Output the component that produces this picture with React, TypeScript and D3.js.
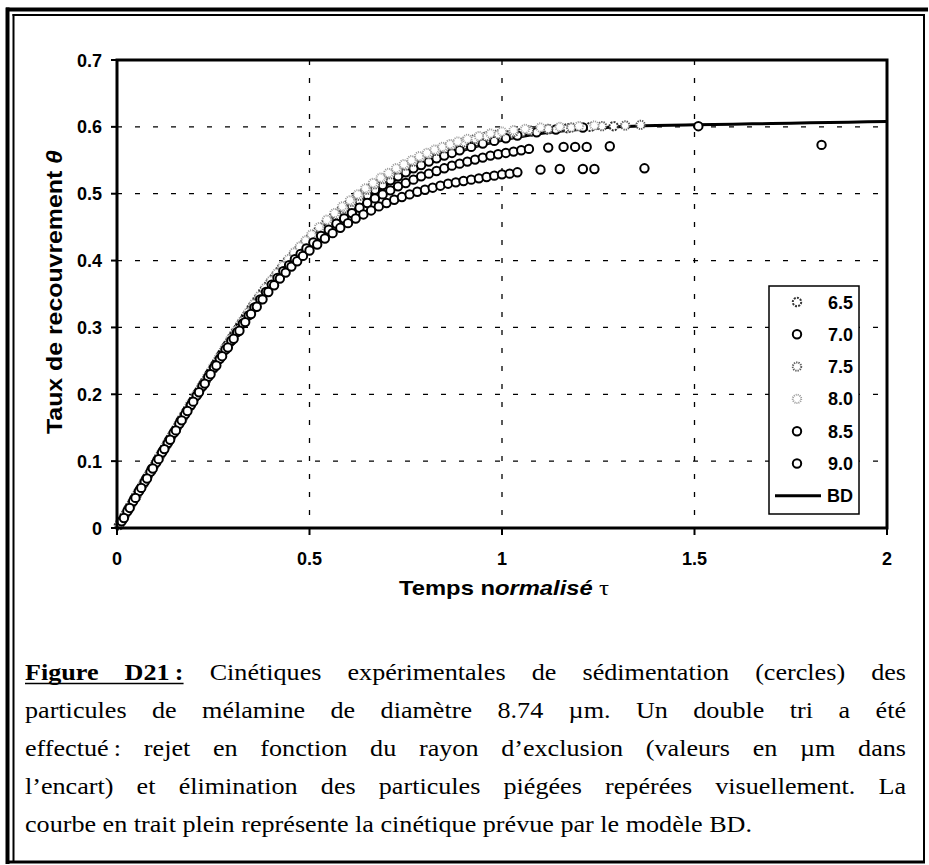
import React, { useMemo } from 'react';
import * as d3 from 'd3';

// ---------- data ----------
const xTicks = [0, 0.5, 1, 1.5, 2];
const xTickLabels = ['0', '0.5', '1', '1.5', '2'];
const yTicks = [0, 0.1, 0.2, 0.3, 0.4, 0.5, 0.6, 0.7];
const yTickLabels = ['0', '0.1', '0.2', '0.3', '0.4', '0.5', '0.6', '0.7'];
const xGrid = [0.5, 1, 1.5];
const yGrid = [0.1, 0.2, 0.3, 0.4, 0.5, 0.6];

const seriesNames = ['6.5', '7.0', '7.5', '8.0', '8.5', '9.0'];

const s65: [number, number][] = [[0.005,0.004],[0.02,0.019],[0.035,0.034],[0.05,0.049],[0.065,0.063],[0.08,0.078],[0.095,0.092],[0.11,0.107],[0.125,0.121],[0.14,0.136],[0.155,0.150],[0.17,0.165],[0.185,0.179],[0.20,0.193],[0.215,0.207],[0.23,0.221],[0.245,0.235],[0.26,0.249],[0.275,0.263],[0.29,0.277],[0.305,0.291],[0.32,0.304],[0.335,0.317],[0.35,0.330],[0.365,0.342],[0.38,0.354],[0.395,0.365],[0.41,0.376],[0.425,0.387],[0.44,0.397],[0.455,0.406],[0.47,0.415],[0.485,0.424],[0.50,0.432],[0.52,0.443],[0.54,0.454],[0.56,0.464],[0.58,0.474],[0.60,0.483],[0.62,0.492],[0.64,0.500],[0.66,0.508],[0.68,0.515],[0.70,0.522],[0.72,0.529],[0.74,0.535],[0.76,0.541],[0.78,0.546],[0.80,0.551],[0.82,0.556],[0.84,0.560],[0.86,0.564],[0.88,0.568],[0.90,0.572],[0.93,0.577],[0.96,0.581],[0.99,0.585],[1.02,0.588],[1.05,0.591],[1.08,0.593],[1.12,0.596],[1.17,0.598],[1.23,0.600],[1.29,0.601]];

const s70: [number, number][] = [[0.01,0.010],[0.03,0.029],[0.045,0.044],[0.06,0.058],[0.075,0.073],[0.09,0.088],[0.105,0.102],[0.12,0.116],[0.135,0.131],[0.15,0.145],[0.165,0.160],[0.18,0.174],[0.195,0.188],[0.21,0.202],[0.225,0.216],[0.24,0.230],[0.255,0.244],[0.27,0.258],[0.285,0.272],[0.30,0.285],[0.315,0.298],[0.33,0.311],[0.345,0.323],[0.36,0.335],[0.375,0.347],[0.39,0.358],[0.405,0.369],[0.42,0.380],[0.435,0.390],[0.45,0.400],[0.465,0.409],[0.48,0.418],[0.495,0.426],[0.51,0.434],[0.53,0.444],[0.55,0.454],[0.57,0.464],[0.59,0.473],[0.61,0.482],[0.63,0.490],[0.65,0.498],[0.67,0.506],[0.69,0.513],[0.71,0.520],[0.73,0.526],[0.75,0.532],[0.77,0.538],[0.79,0.543],[0.81,0.548],[0.83,0.553],[0.85,0.557],[0.87,0.561],[0.89,0.565],[0.92,0.570],[0.95,0.575],[0.98,0.579],[1.01,0.583],[1.04,0.587],[1.09,0.592],[1.14,0.596],[1.21,0.599],[1.51,0.601]];

const s75: [number, number][] = [[0.015,0.013],[0.03,0.028],[0.05,0.047],[0.07,0.067],[0.09,0.086],[0.11,0.106],[0.13,0.125],[0.15,0.144],[0.17,0.163],[0.19,0.182],[0.21,0.201],[0.23,0.219],[0.25,0.238],[0.27,0.256],[0.29,0.274],[0.31,0.292],[0.33,0.309],[0.35,0.326],[0.37,0.342],[0.39,0.357],[0.41,0.372],[0.43,0.386],[0.45,0.399],[0.47,0.412],[0.49,0.424],[0.51,0.436],[0.53,0.447],[0.55,0.458],[0.57,0.468],[0.59,0.478],[0.61,0.488],[0.63,0.497],[0.65,0.506],[0.67,0.514],[0.69,0.522],[0.71,0.529],[0.73,0.536],[0.75,0.542],[0.77,0.548],[0.79,0.554],[0.81,0.559],[0.83,0.564],[0.85,0.568],[0.87,0.572],[0.90,0.577],[0.93,0.582],[0.96,0.586],[0.99,0.589],[1.03,0.592],[1.07,0.595],[1.12,0.597],[1.18,0.599],[1.26,0.601],[1.32,0.602],[1.36,0.603]];

const s80: [number, number][] = [[0.008,0.007],[0.025,0.024],[0.04,0.039],[0.055,0.054],[0.07,0.069],[0.085,0.083],[0.10,0.098],[0.115,0.112],[0.13,0.127],[0.145,0.141],[0.16,0.156],[0.175,0.170],[0.19,0.185],[0.205,0.199],[0.22,0.213],[0.235,0.227],[0.25,0.241],[0.265,0.255],[0.28,0.269],[0.295,0.283],[0.31,0.296],[0.325,0.309],[0.34,0.322],[0.355,0.335],[0.37,0.347],[0.385,0.359],[0.40,0.370],[0.415,0.381],[0.43,0.392],[0.445,0.402],[0.46,0.412],[0.475,0.421],[0.49,0.430],[0.505,0.439],[0.525,0.450],[0.545,0.461],[0.565,0.471],[0.585,0.481],[0.605,0.490],[0.625,0.499],[0.645,0.508],[0.665,0.516],[0.685,0.524],[0.705,0.531],[0.725,0.538],[0.745,0.544],[0.765,0.550],[0.785,0.556],[0.805,0.561],[0.825,0.566],[0.845,0.570],[0.865,0.574],[0.885,0.578],[0.91,0.582],[0.94,0.586],[0.97,0.590],[1.00,0.593],[1.03,0.595],[1.06,0.597],[1.10,0.599],[1.15,0.600],[1.20,0.601],[1.24,0.602]];

const s85: [number, number][] = [[0.012,0.010],[0.027,0.025],[0.042,0.040],[0.057,0.055],[0.072,0.069],[0.087,0.084],[0.102,0.098],[0.117,0.113],[0.132,0.127],[0.147,0.142],[0.162,0.156],[0.177,0.170],[0.192,0.184],[0.207,0.198],[0.222,0.212],[0.237,0.226],[0.252,0.240],[0.267,0.253],[0.282,0.267],[0.297,0.280],[0.312,0.293],[0.327,0.306],[0.342,0.318],[0.357,0.330],[0.372,0.342],[0.387,0.353],[0.402,0.364],[0.417,0.374],[0.432,0.384],[0.447,0.393],[0.462,0.402],[0.477,0.410],[0.492,0.418],[0.51,0.427],[0.53,0.437],[0.55,0.446],[0.57,0.455],[0.59,0.463],[0.61,0.471],[0.63,0.479],[0.65,0.486],[0.67,0.493],[0.69,0.499],[0.71,0.505],[0.73,0.511],[0.75,0.516],[0.77,0.521],[0.79,0.526],[0.81,0.530],[0.83,0.534],[0.85,0.538],[0.87,0.542],[0.89,0.545],[0.91,0.548],[0.93,0.551],[0.95,0.554],[0.97,0.557],[0.99,0.559],[1.01,0.561],[1.03,0.563],[1.05,0.565],[1.07,0.567],[1.12,0.569],[1.16,0.570],[1.19,0.570],[1.22,0.570],[1.28,0.571],[1.83,0.573]];

const s90: [number, number][] = [[0.018,0.015],[0.033,0.030],[0.048,0.045],[0.063,0.060],[0.078,0.074],[0.093,0.089],[0.108,0.103],[0.123,0.118],[0.138,0.132],[0.153,0.146],[0.168,0.161],[0.183,0.175],[0.198,0.189],[0.213,0.203],[0.228,0.216],[0.243,0.230],[0.258,0.243],[0.273,0.257],[0.288,0.270],[0.303,0.283],[0.318,0.295],[0.333,0.308],[0.348,0.320],[0.363,0.331],[0.378,0.342],[0.393,0.353],[0.408,0.363],[0.423,0.373],[0.438,0.382],[0.453,0.391],[0.468,0.399],[0.483,0.407],[0.50,0.415],[0.52,0.424],[0.54,0.433],[0.56,0.441],[0.58,0.449],[0.60,0.456],[0.62,0.463],[0.64,0.469],[0.66,0.475],[0.68,0.481],[0.70,0.486],[0.72,0.491],[0.74,0.495],[0.76,0.499],[0.78,0.503],[0.80,0.506],[0.82,0.509],[0.84,0.512],[0.86,0.515],[0.88,0.517],[0.90,0.519],[0.92,0.521],[0.94,0.523],[0.96,0.525],[0.98,0.527],[1.00,0.529],[1.02,0.530],[1.04,0.532],[1.10,0.536],[1.15,0.537],[1.21,0.537],[1.24,0.537],[1.37,0.538]];

const bdTau = [0, 0.05, 0.1, 0.15, 0.2, 0.25, 0.3, 0.35, 0.4, 0.45, 0.5, 0.55, 0.6, 0.65, 0.7, 0.75, 0.8, 0.85, 0.9, 0.95, 1.0, 1.1, 1.2, 1.3, 1.4, 1.5, 1.6, 1.7, 1.8, 1.9, 2.0];
const bdTheta = [0, 0.049, 0.097, 0.145, 0.191, 0.236, 0.279, 0.32, 0.358, 0.392, 0.423, 0.45, 0.474, 0.495, 0.513, 0.529, 0.543, 0.555, 0.565, 0.573, 0.58, 0.59, 0.596, 0.6, 0.602, 0.603, 0.604, 0.605, 0.606, 0.607, 0.608];

const captionLines: string[] = [
  'Figure D21\u2009: Cinétiques expérimentales de sédimentation (cercles) des',
  'particules de mélamine de diamètre 8.74 µm. Un double tri a été',
  'effectué\u2009: rejet en fonction du rayon d\u2019exclusion (valeurs en µm dans',
  'l\u2019encart) et élimination des particules piégées repérées visuellement. La',
  'courbe en trait plein représente la cinétique prévue par le modèle BD.',
];

// ---------- styles ----------
const seriesSeries = [s65, s70, s75, s80, s85, s90];
const seriesStroke = ['#333', '#000', '#5a5a5a', '#9a9a9a', '#000', '#000'];
const seriesDash = ['2,1.2', null, '1.3,1', '1,1', null, null];

const W = 929;
const H = 865;
const plot = { left: 117, right: 887, top: 60, bottom: 528 };
const SANS = '"Liberation Sans", Arial, sans-serif';
const SERIF = '"Liberation Serif", "Times New Roman", serif';
const MR = 4.2;
const MSW = 2;

export default function App() {
  const x = d3.scaleLinear().domain([0, 2]).range([plot.left, plot.right]);
  const y = d3.scaleLinear().domain([0, 0.7]).range([plot.bottom, plot.top]);
  const bdLine = d3
    .line<number>()
    .x((_, i) => x(bdTau[i]))
    .y((d) => y(d))
    .curve(d3.curveMonotoneX)(bdTheta);

  const caption = useMemo(() => {
    const ctx = document.createElement('canvas').getContext('2d')!;
    const fs = 23.5;
    const meas = (t: string, bold: boolean) => {
      ctx.font = `${bold ? 'bold ' : ''}${fs}px ${SERIF}`;
      return ctx.measureText(t).width;
    };
    const left = 25;
    const right = 906;
    const lastTarget = 727;
    const sx = lastTarget / meas(captionLines[4], false);
    const baselines = [680, 718, 756, 794, 832];
    const out: any[] = [];
    captionLines.forEach((line, li) => {
      const words = line.split(' ');
      const bolds = words.map((_, wi) => li === 0 && wi < 2);
      const widths = words.map((w, wi) => meas(w, bolds[wi]) * sx);
      const total = widths.reduce((a, b) => a + b, 0);
      const last = li === captionLines.length - 1;
      const gap = last ? meas(' ', false) * sx : (right - left - total) / (words.length - 1);
      let cx = left;
      const ws = words.map((w, wi) => {
        const o = { t: w, x: cx, bold: bolds[wi], w: widths[wi] };
        cx += widths[wi] + gap;
        return o;
      });
      const entry: any = { words: ws, y: baselines[li] };
      if (li === 0) entry.ul = [ws[0].x, ws[1].x + widths[1]];
      out.push(entry);
    });
    return { fs, lines: out };
  }, []);

  const legendX = 769;
  const legendY = 286;
  const legendW = 90;
  const legendH = 228;
  const rowY = (i: number) => 302 + i * 32.3;

  return (
    <svg
      width={W}
      height={H}
      style={{ position: 'absolute', left: 0, top: 0, background: '#fff' }}
    >
      <rect x={0} y={0} width={W} height={H} fill="#fff" />
      {/* outer frame */}
      <g stroke="#000" fill="none">
        <line x1={7.5} y1={7.5} x2={7.5} y2={864} strokeWidth={4} />
        <line x1={13.5} y1={14} x2={13.5} y2={862} strokeWidth={2} />
        <line x1={6} y1={9.5} x2={928} y2={9.5} strokeWidth={4} />
        <line x1={12.5} y1={15} x2={924} y2={15} strokeWidth={2} />
        <line x1={924} y1={14} x2={924} y2={863} strokeWidth={2} />
        <line x1={6} y1={862} x2={925} y2={862} strokeWidth={3} />
      </g>

      {/* grid */}
      <g stroke="#000" strokeWidth={1.3} strokeDasharray="5,13">
        {xGrid.map((g) => (
          <line key={'gx' + g} x1={x(g)} x2={x(g)} y1={plot.top} y2={plot.bottom} />
        ))}
        {yGrid.map((g) => (
          <line key={'gy' + g} x1={plot.left} x2={plot.right} y1={y(g)} y2={y(g)} />
        ))}
      </g>

      {/* BD curve */}
      <path d={bdLine || ''} fill="none" stroke="#000" strokeWidth={3} />

      {/* data */}
      {seriesSeries.map((s, si) => (
        <g key={'s' + si}>
          {s.map((p, pi) => (
            <circle
              key={pi}
              cx={x(p[0])}
              cy={y(p[1])}
              r={MR}
              fill="#fff"
              stroke={seriesStroke[si]}
              strokeWidth={MSW}
              strokeDasharray={seriesDash[si] || undefined}
            />
          ))}
        </g>
      ))}

      {/* plot frame */}
      <rect
        x={plot.left}
        y={plot.top}
        width={plot.right - plot.left}
        height={plot.bottom - plot.top}
        fill="none"
        stroke="#000"
        strokeWidth={3}
      />

      {/* ticks */}
      <g stroke="#000" strokeWidth={2}>
        {xTicks.map((t) => (
          <line key={'tx' + t} x1={x(t)} x2={x(t)} y1={plot.bottom} y2={plot.bottom + 7} />
        ))}
        {yTicks.map((t) => (
          <line key={'ty' + t} x1={plot.left - 6} x2={plot.left} y1={y(t)} y2={y(t)} />
        ))}
      </g>
      <g fontFamily={SANS} fontWeight="bold" fontSize={18} fill="#000">
        {xTicks.map((t, i) => (
          <text key={'lx' + t} x={x(t)} y={565} textAnchor="middle">
            {xTickLabels[i]}
          </text>
        ))}
        {yTicks.map((t, i) => (
          <text key={'ly' + t} x={102} y={y(t) + 6.5} textAnchor="end">
            {yTickLabels[i]}
          </text>
        ))}
      </g>

      {/* axis titles */}
      <text
        x={504}
        y={595}
        textAnchor="middle"
        fontFamily={SANS}
        fontWeight="bold"
        fontSize={21}
        textLength={210}
        lengthAdjust="spacingAndGlyphs"
      >
        Temps n<tspan fontStyle="italic">ormalisé</tspan>
        <tspan fontFamily={SERIF} fontWeight="normal" fontSize={22}>
          {' '}τ
        </tspan>
      </text>
      <text
        transform="translate(62,292) rotate(-90)"
        textAnchor="middle"
        fontFamily={SANS}
        fontWeight="bold"
        fontSize={22}
        textLength={284}
        lengthAdjust="spacingAndGlyphs"
      >
        Taux de recouvrement <tspan fontStyle="italic">θ</tspan>
      </text>

      {/* legend */}
      <rect
        x={legendX}
        y={legendY}
        width={legendW}
        height={legendH}
        fill="#fff"
        stroke="#000"
        strokeWidth={1.5}
      />
      {seriesNames.map((n, i) => (
        <g key={'leg' + n}>
          <circle
            cx={797}
            cy={rowY(i)}
            r={MR}
            fill="#fff"
            stroke={seriesStroke[i]}
            strokeWidth={MSW}
            strokeDasharray={seriesDash[i] || undefined}
          />
          <text
            x={853}
            y={rowY(i) + 6.5}
            textAnchor="end"
            fontFamily={SANS}
            fontWeight="bold"
            fontSize={18}
          >
            {n}
          </text>
        </g>
      ))}
      <line x1={775} x2={821} y1={rowY(6)} y2={rowY(6)} stroke="#000" strokeWidth={3} />
      <text
        x={853}
        y={rowY(6) + 6.5}
        textAnchor="end"
        fontFamily={SANS}
        fontWeight="bold"
        fontSize={18}
      >
        BD
      </text>

      {/* caption */}
      <g fontFamily={SERIF} fontSize={caption.fs} fill="#000">
        {caption.lines.map((ln: any, li: number) => (
          <g key={'cap' + li}>
            {ln.words.map((w: any, wi: number) => (
              <text
                key={wi}
                x={w.x}
                y={ln.y}
                fontWeight={w.bold ? 'bold' : 'normal'}
                textLength={w.w}
                lengthAdjust="spacingAndGlyphs"
              >
                {w.t}
              </text>
            ))}
            {ln.ul && (
              <line
                x1={ln.ul[0]}
                x2={ln.ul[1]}
                y1={ln.y + 3.5}
                y2={ln.y + 3.5}
                stroke="#000"
                strokeWidth={1.5}
              />
            )}
          </g>
        ))}
      </g>
    </svg>
  );
}
